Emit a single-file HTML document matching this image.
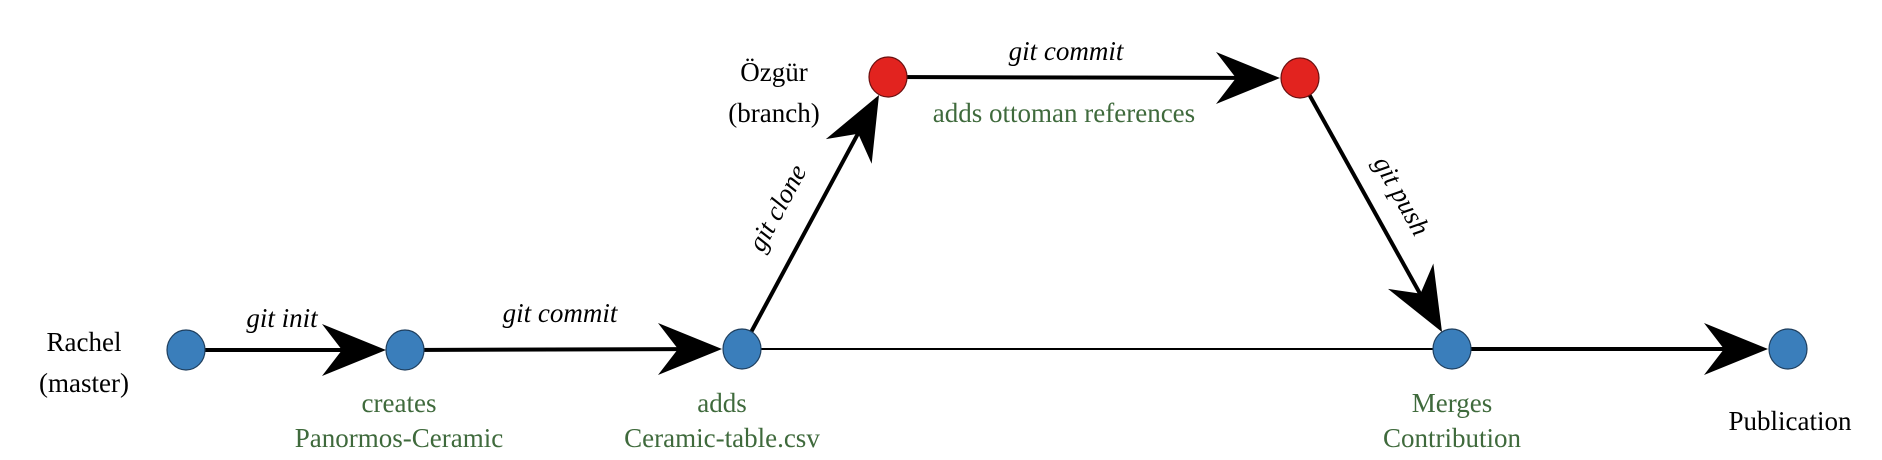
<!DOCTYPE html>
<html><head><meta charset="utf-8"><style>
html,body{margin:0;padding:0;background:#fff;}
svg{display:block;}
text{font-family:"Liberation Serif",serif;font-size:27px;}
.g{fill:#3f6a3c;}
.i{font-style:italic;}
</style></head><body>
<svg width="1882" height="460" viewBox="0 0 1882 460">
<defs>
<polygon id="ah" points="0,0 -64,-26 -44,0 -64,26" fill="#000"/>
</defs>
<g stroke="#000" fill="none">
<line x1="186" y1="350" x2="380" y2="350" stroke-width="4"/>
<line x1="405" y1="350" x2="715" y2="349" stroke-width="4"/>
<line x1="742" y1="349" x2="1452" y2="349" stroke-width="2"/>
<line x1="742" y1="349" x2="875" y2="102" stroke-width="4"/>
<line x1="888" y1="77" x2="1274" y2="78" stroke-width="4"/>
<line x1="1300" y1="78" x2="1438" y2="326" stroke-width="4"/>
<line x1="1452" y1="349" x2="1762" y2="349" stroke-width="4"/>
</g>
<use href="#ah" transform="translate(386,350)"/>
<use href="#ah" transform="translate(722,349)"/>
<use href="#ah" transform="translate(879,95) rotate(-61.8)"/>
<use href="#ah" transform="translate(1280,78)"/>
<use href="#ah" transform="translate(1442,332) rotate(60.7)"/>
<use href="#ah" transform="translate(1768,349)"/>
<g fill="#3a7ebb" stroke="#1f3f5e" stroke-width="1.2">
<ellipse cx="186" cy="350" rx="19" ry="20"/>
<ellipse cx="405" cy="350" rx="19" ry="20"/>
<ellipse cx="742" cy="349" rx="19" ry="20"/>
<ellipse cx="1452" cy="349" rx="19" ry="20"/>
<ellipse cx="1788" cy="349" rx="19" ry="20"/>
</g>
<g fill="#e2231f" stroke="#6a1010" stroke-width="1.2">
<ellipse cx="888" cy="77" rx="19" ry="20"/>
<ellipse cx="1300" cy="78" rx="19" ry="20"/>
</g>
<g text-anchor="middle">
<text x="84" y="351">Rachel</text>
<text x="84" y="392">(master)</text>
<text x="774" y="81">Özgür</text>
<text x="774" y="122">(branch)</text>
<text class="i" x="282" y="327">git init</text>
<text class="i" x="560" y="322">git commit</text>
<text class="i" x="1066" y="60">git commit</text>
<text class="i" transform="translate(785,212) rotate(-61.8)">git clone</text>
<text class="i" transform="translate(1394,200) rotate(60.7)">git push</text>
<text class="g" x="399" y="412">creates</text>
<text class="g" x="399" y="447">Panormos-Ceramic</text>
<text class="g" x="722" y="412">adds</text>
<text class="g" x="722" y="447">Ceramic-table.csv</text>
<text class="g" x="1064" y="122">adds ottoman references</text>
<text class="g" x="1452" y="412">Merges</text>
<text class="g" x="1452" y="447">Contribution</text>
<text x="1790" y="430">Publication</text>
</g>
</svg>
</body></html>
